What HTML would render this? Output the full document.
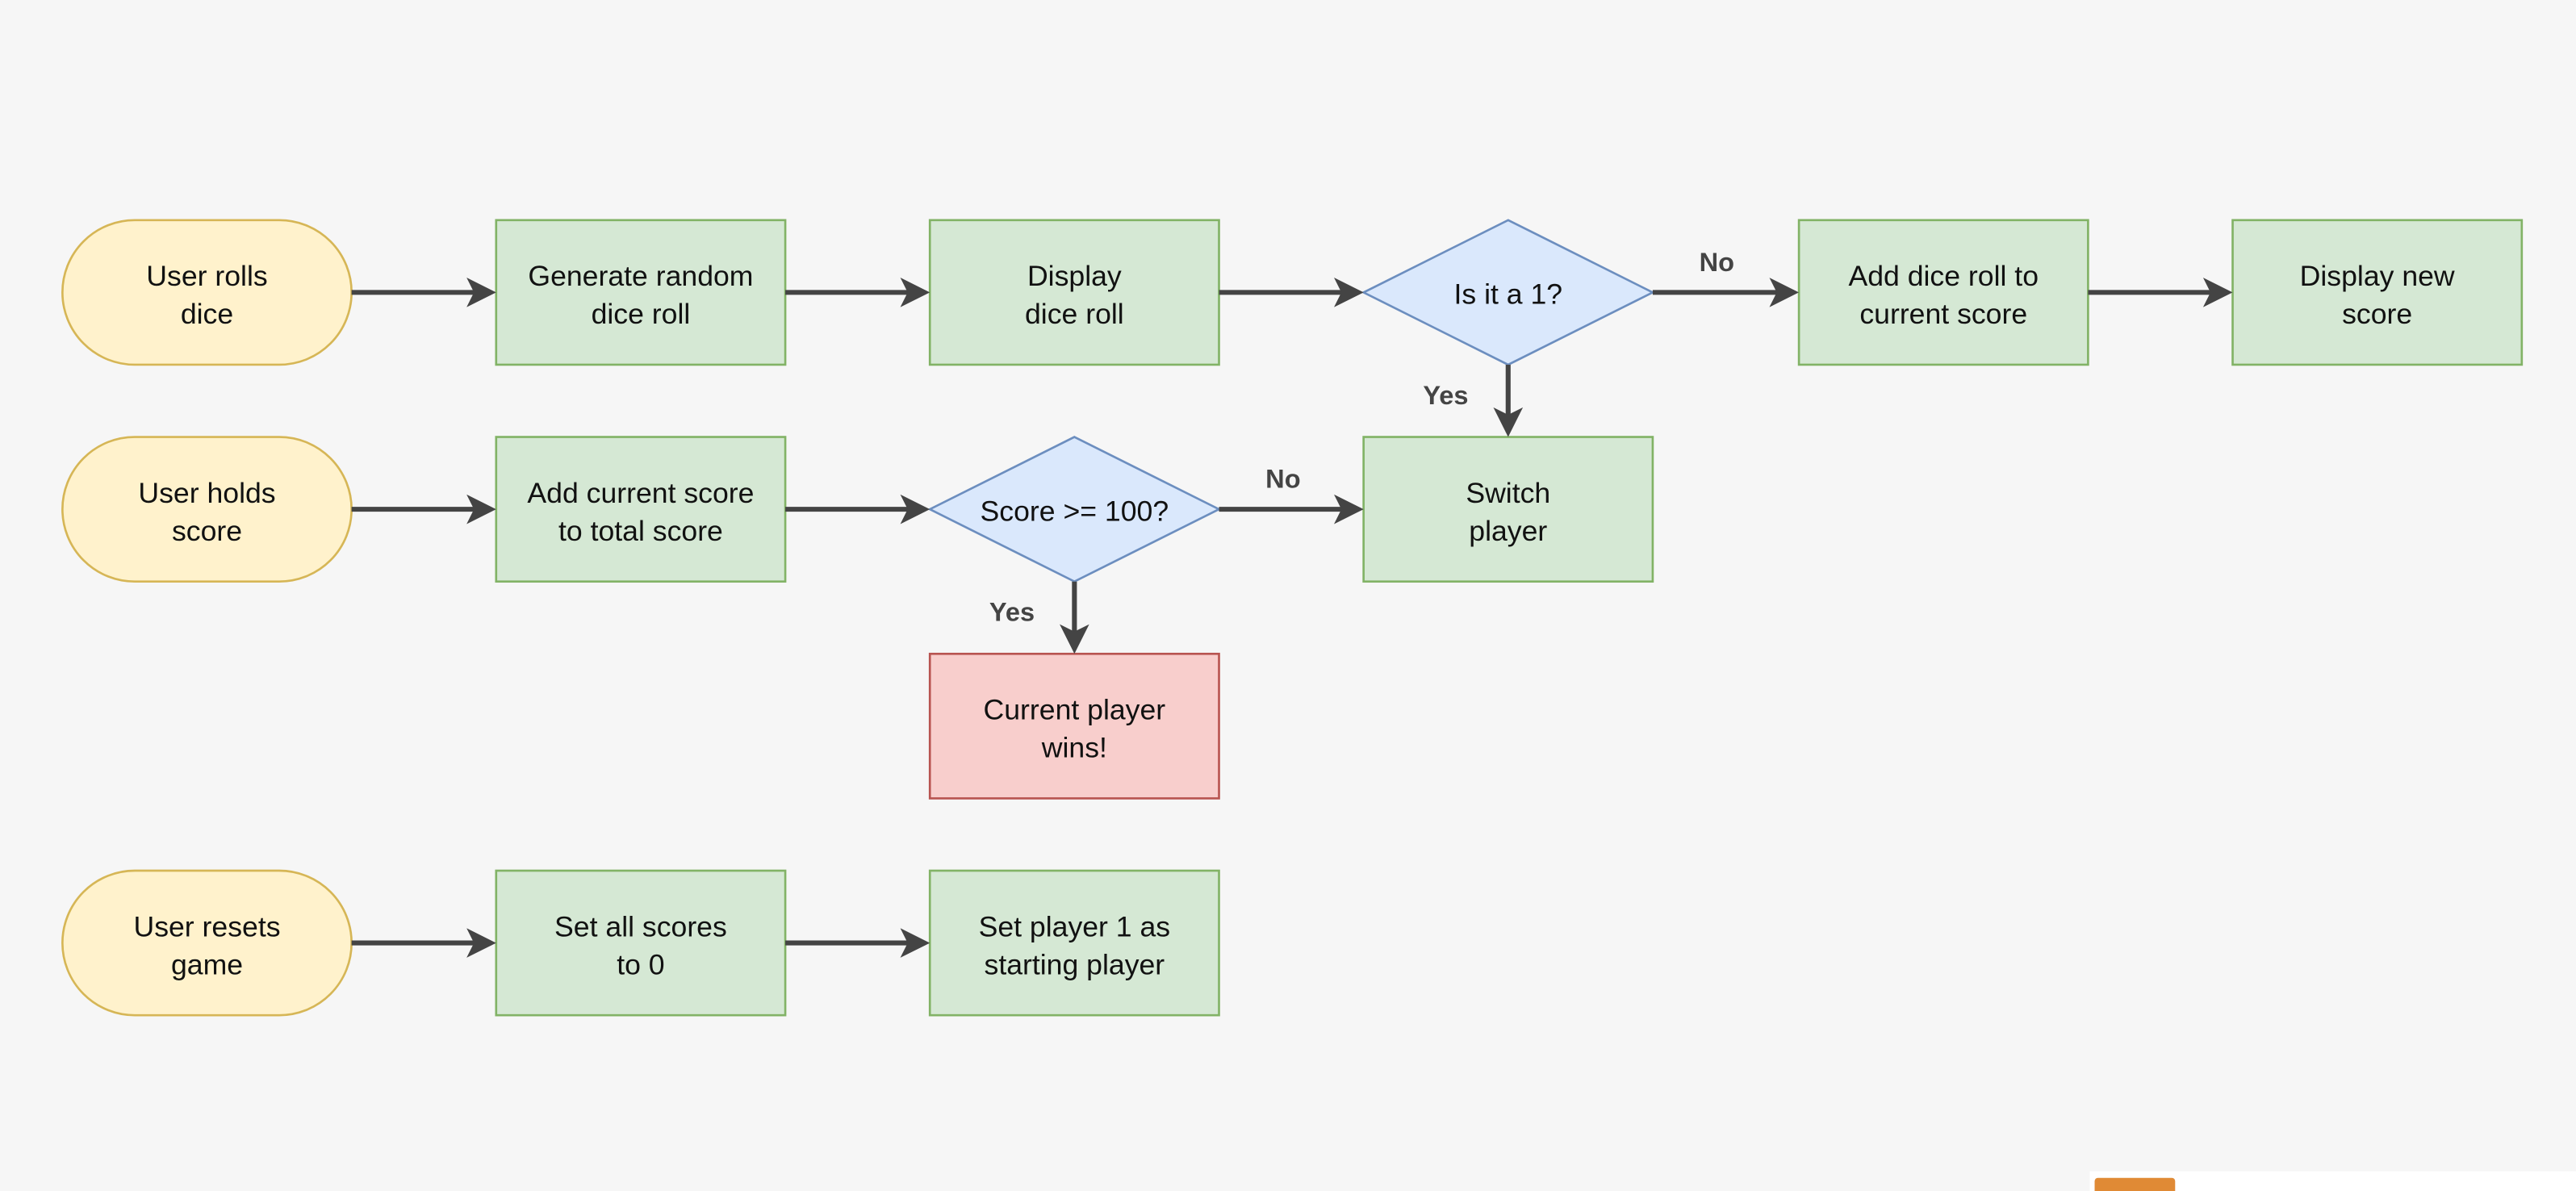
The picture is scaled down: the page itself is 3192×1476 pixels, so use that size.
<!DOCTYPE html>
<html><head><meta charset="utf-8"><style>
html,body{margin:0;padding:0;background:#f6f6f6;}
svg{display:block}
text{font-family:"Liberation Sans",sans-serif;font-size:17.5px;fill:#111;text-anchor:middle}
.b{font-weight:bold;fill:#444;font-size:16px}
</style></head><body>
<svg width="3192" height="1476" viewBox="0 0 1568 725" preserveAspectRatio="none">
<defs><marker id="a" markerWidth="6" markerHeight="6" refX="5" refY="3" orient="auto" markerUnits="strokeWidth"><path d="M0,0 L6,3 L0,6 L1.5,3 z" fill="#444"/></marker></defs>
<rect width="1568" height="725" fill="#f6f6f6"/>
<g stroke-width="1.3">
<rect x="38" y="134" width="176" height="88" rx="44" fill="#fff2cc" stroke="#d6b656"/>
<rect x="38" y="266" width="176" height="88" rx="44" fill="#fff2cc" stroke="#d6b656"/>
<rect x="38" y="530" width="176" height="88" rx="44" fill="#fff2cc" stroke="#d6b656"/>
<rect x="302" y="134" width="176" height="88" fill="#d5e8d4" stroke="#82b366"/>
<rect x="566" y="134" width="176" height="88" fill="#d5e8d4" stroke="#82b366"/>
<rect x="1095" y="134" width="176" height="88" fill="#d5e8d4" stroke="#82b366"/>
<rect x="1359" y="134" width="176" height="88" fill="#d5e8d4" stroke="#82b366"/>
<rect x="302" y="266" width="176" height="88" fill="#d5e8d4" stroke="#82b366"/>
<rect x="830" y="266" width="176" height="88" fill="#d5e8d4" stroke="#82b366"/>
<rect x="302" y="530" width="176" height="88" fill="#d5e8d4" stroke="#82b366"/>
<rect x="566" y="530" width="176" height="88" fill="#d5e8d4" stroke="#82b366"/>
<rect x="566" y="398" width="176" height="88" fill="#f8cecc" stroke="#b85450"/>
<polygon points="918,134 1006,178 918,222 830,178" fill="#dae8fc" stroke="#6c8ebf"/>
<polygon points="654,266 742,310 654,354 566,310" fill="#dae8fc" stroke="#6c8ebf"/>
</g>
<g stroke="#444" stroke-width="3" fill="none" marker-end="url(#a)">
<line x1="214" y1="178" x2="299" y2="178"/>
<line x1="478" y1="178" x2="563" y2="178"/>
<line x1="742" y1="178" x2="827" y2="178"/>
<line x1="1006" y1="178" x2="1092" y2="178"/>
<line x1="1271" y1="178" x2="1356" y2="178"/>
<line x1="918" y1="222" x2="918" y2="263"/>
<line x1="214" y1="310" x2="299" y2="310"/>
<line x1="478" y1="310" x2="563" y2="310"/>
<line x1="742" y1="310" x2="827" y2="310"/>
<line x1="654" y1="354" x2="654" y2="395"/>
<line x1="214" y1="574" x2="299" y2="574"/>
<line x1="478" y1="574" x2="563" y2="574"/>
</g>
<text x="126" y="174">User rolls</text><text x="126" y="197">dice</text>
<text x="390" y="174">Generate random</text><text x="390" y="197">dice roll</text>
<text x="654" y="174">Display</text><text x="654" y="197">dice roll</text>
<text x="918" y="185">Is it a 1?</text>
<text x="1183" y="174">Add dice roll to</text><text x="1183" y="197">current score</text>
<text x="1447" y="174">Display new</text><text x="1447" y="197">score</text>
<text x="126" y="306">User holds</text><text x="126" y="329">score</text>
<text x="390" y="306">Add current score</text><text x="390" y="329">to total score</text>
<text x="654" y="317">Score &gt;= 100?</text>
<text x="918" y="306">Switch</text><text x="918" y="329">player</text>
<text x="654" y="438">Current player</text><text x="654" y="461">wins!</text>
<text x="126" y="570">User resets</text><text x="126" y="593">game</text>
<text x="390" y="570">Set all scores</text><text x="390" y="593">to 0</text>
<text x="654" y="570">Set player 1 as</text><text x="654" y="593">starting player</text>
<text class="b" x="1045" y="165">No</text>
<text class="b" x="880" y="246">Yes</text>
<text class="b" x="781" y="297">No</text>
<text class="b" x="616" y="378">Yes</text>
<rect x="1272" y="713" width="296" height="12" fill="#fff"/>
<rect x="1275" y="717" width="49" height="10" rx="2" fill="#e08a35"/>
</svg>
</body></html>
